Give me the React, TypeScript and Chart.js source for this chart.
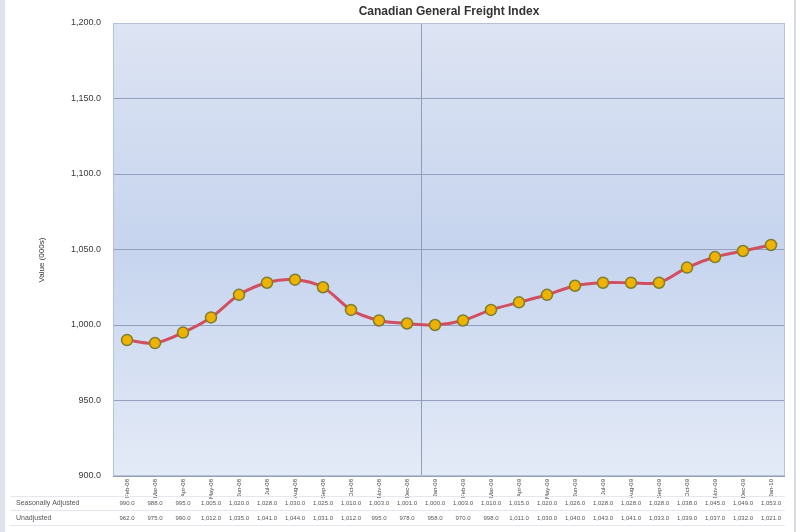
import React, { useEffect, useRef } from "react"
import { Chart, registerables } from "chart.js"

Chart.register(...registerables)

const chartTitle = "Canadian General Freight Index"
const yAxisTitle = "Value (000s)"

const months = [
    "Feb-08", "Mar-08", "Apr-08", "May-08", "Jun-08", "Jul-08", "Aug-08", "Sep-08", "Oct-08", "Nov-08", "Dec-08",
    "Jan-09", "Feb-09", "Mar-09", "Apr-09", "May-09", "Jun-09", "Jul-09", "Aug-09", "Sep-09", "Oct-09", "Nov-09", "Dec-09", "Jan-10",
]

const seasonallyAdjusted = [
    990, 988, 995, 1005, 1020, 1028, 1030, 1025, 1010, 1003, 1001,
    1000, 1003, 1010, 1015, 1020, 1026, 1028, 1028, 1028, 1038, 1045, 1049, 1053,
]

const unadjusted = [
    962, 975, 990, 1012, 1035, 1041, 1044, 1031, 1012, 995, 978,
    958, 970, 998, 1011, 1030, 1040, 1043, 1041, 1033, 1039, 1037, 1032, 1021,
]

const tableRows = ["Seasonally Adjusted", "Unadjusted"]

const yTicks = [900, 950, 1000, 1050, 1100, 1150, 1200]

const FONT = "'Liberation Sans', Arial, sans-serif"

const fmt = (v: number) => v.toLocaleString("en-US", { minimumFractionDigits: 1, maximumFractionDigits: 1 })

const decorPlugin = {
    id: "decor",
    beforeDraw(chart: Chart) {
        const { ctx, chartArea: a } = chart
        ctx.save()
        ctx.fillStyle = "#ffffff"
        ctx.fillRect(0, 0, chart.width, chart.height)
        // outer frame strips
        ctx.fillStyle = "#dfe4ec"
        ctx.fillRect(0, 0, 5, chart.height)
        ctx.fillStyle = "#d5dae2"
        ctx.fillRect(794, 0, 2, chart.height)
        // plot background gradient
        const g = ctx.createLinearGradient(0, a.top, 0, a.bottom)
        g.addColorStop(0, "#dde4f3")
        g.addColorStop(0.5, "#c6d4ee")
        g.addColorStop(1, "#e4ebf7")
        ctx.fillStyle = g
        ctx.fillRect(a.left, a.top, a.right - a.left, a.bottom - a.top)
        ctx.restore()
    },
    beforeDatasetsDraw(chart: Chart) {
        const { ctx, chartArea: a, scales } = chart
        const x = scales.x
        // year separator between Dec and Jan
        const sep = (x.getPixelForValue(10) + x.getPixelForValue(11)) / 2
        ctx.save()
        ctx.strokeStyle = "#8f9dba"
        ctx.lineWidth = 1
        ctx.beginPath()
        ctx.moveTo(Math.round(sep) + 0.5, a.top)
        ctx.lineTo(Math.round(sep) + 0.5, a.bottom)
        ctx.stroke()
        // plot frame
        ctx.strokeStyle = "#b8c2d6"
        ctx.strokeRect(a.left + 0.5, a.top + 0.5, a.right - a.left - 1, a.bottom - a.top - 1)
        ctx.restore()
    },
    afterDraw(chart: Chart) {
        const { ctx, chartArea: a, scales } = chart
        const x = scales.x
        ctx.save()
        // title
        ctx.fillStyle = "#333333"
        ctx.font = `bold 12px ${FONT}`
        ctx.textAlign = "center"
        ctx.textBaseline = "middle"
        ctx.fillText(chartTitle, (a.left + a.right) / 2, 12)
        // y axis title
        ctx.font = `8px ${FONT}`
        ctx.translate(42, 260)
        ctx.rotate(-Math.PI / 2)
        ctx.fillText(yAxisTitle, 0, 0)
        ctx.restore()

        // data table
        ctx.save()
        ctx.font = `6px ${FONT}`
        ctx.fillStyle = "#555555"
        ctx.textBaseline = "middle"
        const rowsY = [503, 518]
        const series = [seasonallyAdjusted, unadjusted]
        ctx.strokeStyle = "#e4e8ee"
        ctx.lineWidth = 1
        ctx.beginPath()
        ctx.moveTo(10, 496.5)
        ctx.lineTo(a.right, 496.5)
        ctx.moveTo(10, 510.5)
        ctx.lineTo(a.right, 510.5)
        ctx.moveTo(10, 525.5)
        ctx.lineTo(a.right, 525.5)
        ctx.stroke()
        rowsY.forEach((y, r) => {
            ctx.textAlign = "left"
            ctx.font = `7px ${FONT}`
            ctx.fillText(tableRows[r], 16, y)
            ctx.textAlign = "center"
            ctx.font = `6px ${FONT}`
            series[r].forEach((v, i) => {
                ctx.fillText(fmt(v), x.getPixelForValue(i), y)
            })
        })
        ctx.restore()
    },
}

function LineChart() {
    const chartRef = useRef<HTMLCanvasElement>(null)
    const chartInstance = useRef<Chart | null>(null)

    useEffect(() => {
        if (!chartRef.current) return
        if (chartInstance.current) chartInstance.current.destroy()
        const ctx = chartRef.current.getContext("2d")
        if (!ctx) return

        chartInstance.current = new Chart(ctx, {
            type: "line",
            data: {
                labels: months,
                datasets: [
                    {
                        label: tableRows[0],
                        data: seasonallyAdjusted,
                        borderColor: "#d14f60",
                        borderWidth: 3,
                        tension: 0.3,
                        pointRadius: 5.5,
                        pointBackgroundColor: "#eeb300",
                        pointBorderColor: "#7d7d2e",
                        pointBorderWidth: 1.5,
                    },
                ],
            },
            options: {
                animation: false,
                responsive: false,
                maintainAspectRatio: false,
                layout: { padding: { top: 23, right: 15, left: 0, bottom: 0 } },
                plugins: {
                    legend: { display: false },
                    title: { display: false },
                    tooltip: { enabled: false },
                },
                scales: {
                    x: {
                        offset: true,
                        grid: { display: false, drawTicks: false },
                        border: { display: false },
                        ticks: {
                            autoSkip: false,
                            maxRotation: 90,
                            minRotation: 90,
                            padding: 3,
                            color: "#444444",
                            font: { size: 6, family: FONT },
                        },
                        afterFit: (scale: any) => {
                            scale.height = 56
                        },
                    },
                    y: {
                        min: yTicks[0],
                        max: yTicks[yTicks.length - 1],
                        afterBuildTicks: (scale: any) => {
                            scale.ticks = yTicks.map((v) => ({ value: v }))
                        },
                        grid: { color: "#92a0bd", lineWidth: 1, drawTicks: false },
                        border: { display: false },
                        ticks: {
                            padding: 12,
                            color: "#3a3a3a",
                            font: { size: 9, family: FONT },
                            callback: (v: any) => fmt(Number(v)),
                        },
                        afterFit: (scale: any) => {
                            scale.width = 113
                        },
                    },
                },
            },
            plugins: [decorPlugin],
        })

        return () => {
            if (chartInstance.current) {
                chartInstance.current.destroy()
                chartInstance.current = null
            }
        }
    }, [])

    return <canvas ref={chartRef} width={800} height={532} style={{ display: "block" }} />
}

export default function App() {
    useEffect(() => {
        document.body.style.margin = "0"
    }, [])
    return (
        <div style={{ width: 800, height: 532 }}>
            <LineChart />
        </div>
    )
}
